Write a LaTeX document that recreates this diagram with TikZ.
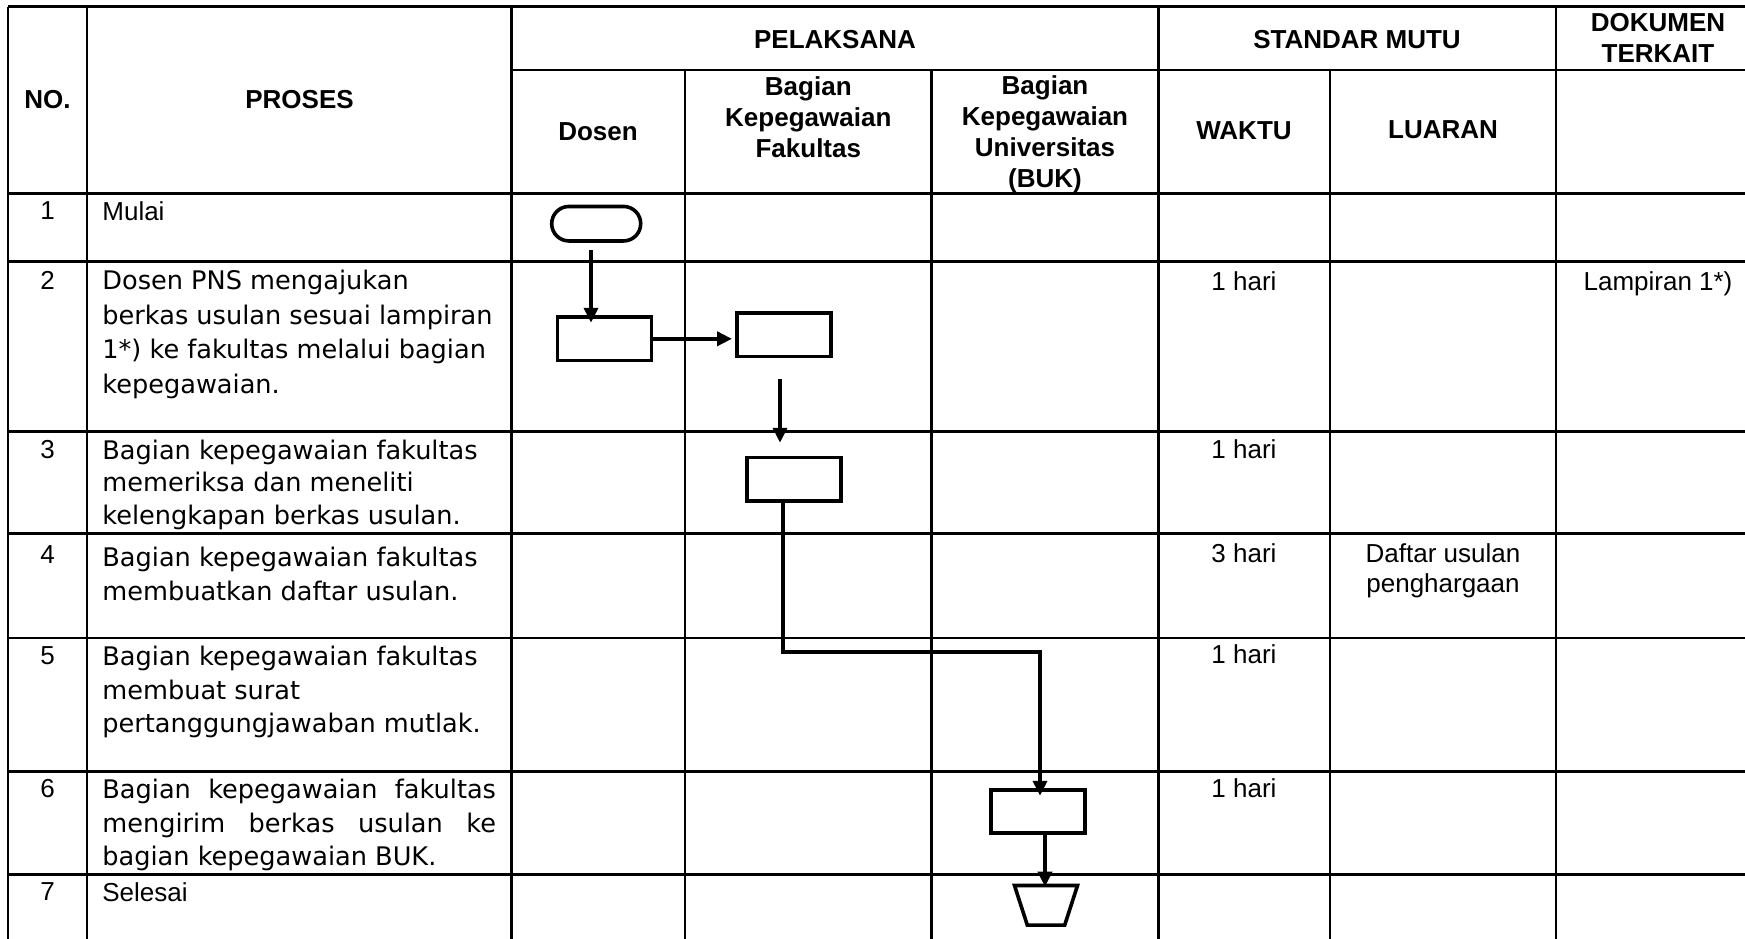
\documentclass[tikz,border=0pt]{standalone}
\usepackage{fontspec}
\setmainfont{Liberation Sans}
\newfontfamily\procfont{DejaVu Sans}
\usetikzlibrary{arrows.meta,calc}
\tikzset{
  tbl/.style={line width=1.35pt},
  shp/.style={draw, line width=1.8pt, inner sep=0pt},
  procbox/.style={shp, rectangle, minimum width=47pt, minimum height=21.75pt},
  term/.style={shp, rectangle, rounded corners=8.6pt, minimum width=44.5pt, minimum height=17.25pt},
  conn/.style={line width=2pt, -{Triangle[length=7.5pt,width=7pt]}},
  hd/.style={font={\bfseries\fontsize{13}{15.5}\selectfont}, align=center, inner sep=0pt},
  num/.style={font={\fontsize{13}{15}\selectfont}, anchor=north, inner sep=0pt},
  proc/.style={font={\procfont\fontsize{12.8}{16.75}\selectfont}, anchor=north west, align=left, inner sep=0pt},
  cell/.style={font={\fontsize{13}{15}\selectfont}, anchor=north, align=center, inner sep=0pt},
  celll/.style={font={\fontsize{13}{15}\selectfont}, anchor=north west, align=left, inner sep=0pt},
}
\begin{document}
\begin{tikzpicture}[x=0.5pt,y=-0.5pt]
\useasboundingbox (0,0) rectangle (1745,938);
\clip (0,0) rectangle (1745,938);
% table grid
\draw[tbl] (8,6.7) -- (1760,6.7);
\draw[tbl] (511.7,70) -- (1760,70);
\foreach \yy in {193.5,261.7,431.5,533.3,638,771.7,874.5}
  \draw[tbl] (8,\yy) -- (1760,\yy);
\foreach \xx in {8,87,511.7,1158.5,1556}
  \draw[tbl] (\xx,6.7) -- (\xx,945);
\foreach \xx in {685,931.7,1330}
  \draw[tbl] (\xx,70) -- (\xx,945);
% headers
\node[hd] (hno) at (47.5,100) {NO.};
\node[hd] (hproses) at (299.5,100) {PROSES};
\node[hd] (hpel) at (835,40) {PELAKSANA};
\node[hd] (hstd) at (1357,40) {STANDAR MUTU};
\node[hd] (hdok) at (1658,38) {DOKUMEN\\TERKAIT};
\node[hd] (hdosen) at (598,132) {Dosen};
\node[hd] (hbkf) at (808.3,117) {Bagian\\Kepegawaian\\Fakultas};
\node[hd] (hbku) at (1045,134) {Bagian\\Kepegawaian\\Universitas\\(BUK)};
\node[hd] (hwaktu) at (1244,131) {WAKTU};
\node[hd] (hluaran) at (1443,130) {LUARAN};
% numbers
\node[num] (n1) at (47.5,201) {1};
\node[num] (n2) at (47.5,271) {2};
\node[num] (n3) at (47.5,440) {3};
\node[num] (n4) at (47.5,545) {4};
\node[num] (n5) at (47.5,646) {5};
\node[num] (n6) at (47.5,779) {6};
\node[num] (n7) at (47.5,882) {7};
% process texts
\node[celll] (p1) at (102,201.5) {Mulai};
\node[proc, font={\procfont\fontsize{12.8}{17.25}\selectfont}] (p2) at (102,270) {Dosen PNS mengajukan\\berkas usulan sesuai lampiran\\1*) ke fakultas melalui bagian\\kepegawaian.};
\node[proc, font={\procfont\fontsize{12.8}{16.25}\selectfont}] (p3) at (102,439.5) {Bagian kepegawaian fakultas\\memeriksa dan meneliti\\kelengkapan berkas usulan.};
\node[proc] (p4) at (102,547) {Bagian kepegawaian fakultas\\membuatkan daftar usulan.};
\node[proc] (p5) at (102,646) {Bagian kepegawaian fakultas\\membuat surat\\pertanggungjawaban mutlak.};
\node[proc] (p6) at (102,779) {\makebox[196.8pt][s]{Bagian kepegawaian fakultas}\\\makebox[196.8pt][s]{mengirim berkas usulan ke}\\bagian kepegawaian BUK.};
\node[celll] (p7) at (102,882) {Selesai};
% waktu
\node[cell] (w2) at (1244,271) {1 hari};
\node[cell] (w3) at (1244,439) {1 hari};
\node[cell] (w4) at (1244,543) {3 hari};
\node[cell] (w5) at (1244,644) {1 hari};
\node[cell] (w6) at (1244,778) {1 hari};
% luaran and dokumen
\node[cell] (l4) at (1443,543) {Daftar usulan\\penghargaan};
\node[cell] (d2) at (1658,271) {Lampiran 1*)};
% flow shapes
\node[term] (start) at (596.2,223.7) {};
\node[procbox] (box1) at (604.3,338.8) {};
\node[procbox] (box2) at (783.8,334.7) {};
\node[procbox] (box3) at (794.2,479.3) {};
\node[procbox] (box4) at (1038,811.5) {};
\coordinate (end) at (1046,905.3);
\draw[line width=1.8pt, line join=miter] ($(end)+(-15.75pt,9.9pt)$) -- ($(end)+(15.75pt,9.9pt)$)
  -- ($(end)+(9.35pt,-9.9pt)$) -- ($(end)+(-9.35pt,-9.9pt)$) -- cycle;
% connectors
\coordinate (c1) at ($(start.south)+(-2.6pt,-3.5pt)$);
\draw[conn] (c1) -- ($(c1 |- box1.north)+(0,-3.75pt)$);
\draw[conn, shorten >=1.5pt] (box1.east) -- (box1.east -| box2.west);
\coordinate (c3) at ($(box2.south)+(-1.9pt,-10.5pt)$);
\draw[conn] (c3) -- ($(c3 |- box3.north)+(0,6.5pt)$);
\coordinate (c4) at ($(box3.south)+(-5.6pt,0)$);
\coordinate (turn) at (0,651.7);
\coordinate (t4) at ($(box4.north)+(1pt,-3.9pt)$);
\draw[conn] (c4) -- (c4 |- turn) -| (t4);
\coordinate (c5) at ($(box4.south)+(3.5pt,0)$);
\draw[conn] (c5) -- ($(c5 |- end)+(0,9.3pt)$);
\end{tikzpicture}
\end{document}
